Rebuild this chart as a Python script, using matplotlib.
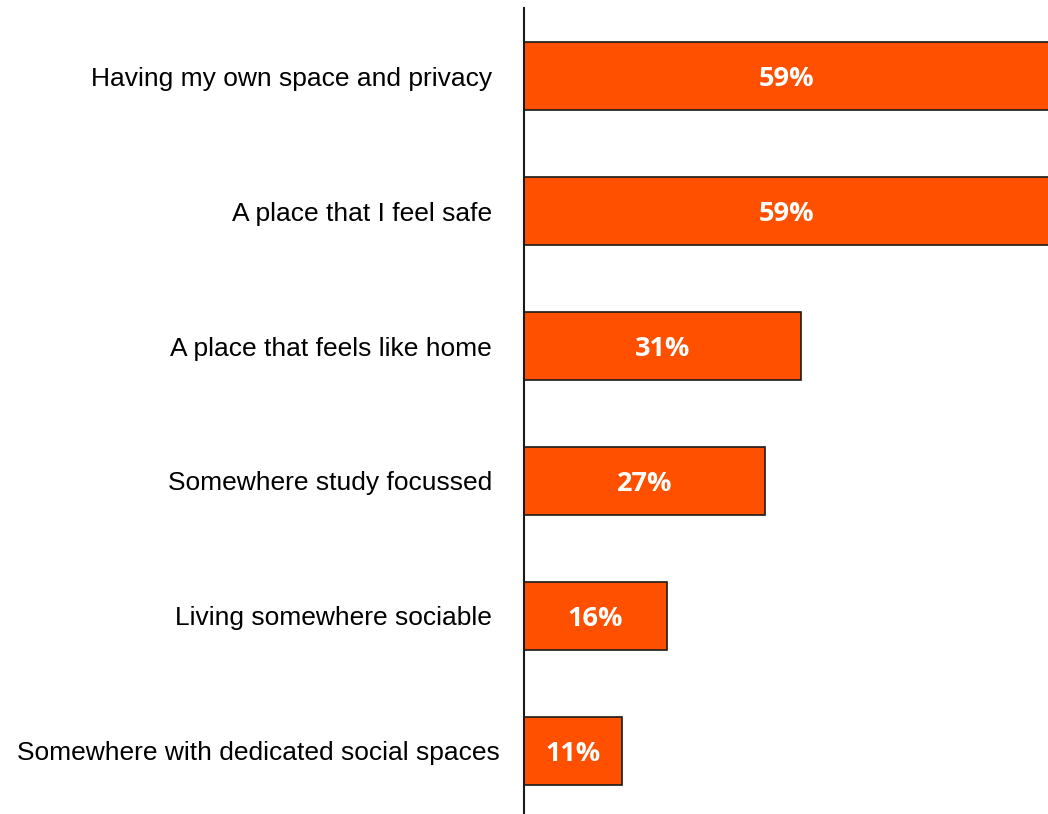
import matplotlib.pyplot as plt
from matplotlib.transforms import ScaledTranslation

categories = [
    "Having my own space and privacy",
    "A place that I feel safe",
    "A place that feels like home",
    "Somewhere study focussed",
    "Living somewhere sociable",
    "Somewhere with dedicated social spaces",
]
values = [59, 59, 31, 27, 16, 11]
value_labels = ["59%", "59%", "31%", "27%", "16%", "11%"]

fig = plt.figure(figsize=(10.48, 8.14), dpi=100)
ax = fig.add_axes([524 / 1048, 0, 1 - 524 / 1048, 1 - 8 / 814])

y = list(range(len(categories)))
ax.barh(y, values, height=0.5, color="#FF5000", edgecolor="#1a1a1a", linewidth=1.2)

xmax = 58.7
for yi, v, lab in zip(y, values, value_labels):
    # bars running past the axis edge get their label in the visible middle
    ax.text(min(v, xmax) / 2, yi + 0.02, lab, ha="center", va="center",
            color="white", fontsize=19.5, fontweight="bold", family="Open Sans")

ax.set_xlim(0, xmax)
ax.set_ylim(len(categories) - 1 + 0.467, -0.504)
ax.set_yticks(y)
ax.set_yticklabels(categories, fontsize=19, family="Liberation Sans")
ax.tick_params(axis="y", length=0, pad=23)
ax.set_xticks([])
for s in ["top", "right", "bottom"]:
    ax.spines[s].set_visible(False)
ax.spines["left"].set_linewidth(1.5)
ax.spines["left"].set_color("#1a1a1a")

# the longest label sits a little closer to the axis in the original
last = ax.get_yticklabels()[-1]
last.set_transform(last.get_transform() + ScaledTranslation(0.08, 0, fig.dpi_scale_trans))

fig.savefig("out.png", dpi=100)
